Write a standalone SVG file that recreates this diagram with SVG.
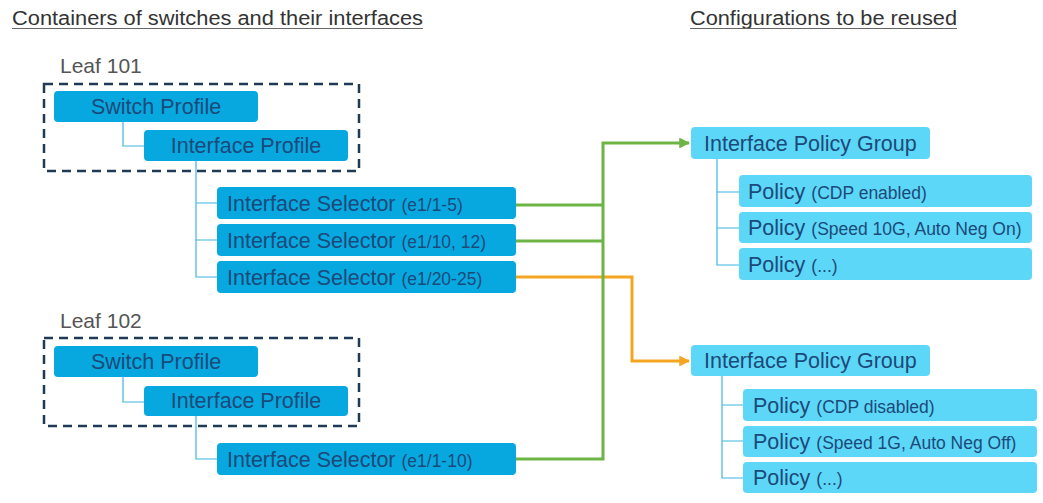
<svg xmlns="http://www.w3.org/2000/svg" width="1043" height="503" viewBox="0 0 1043 503">
<style>
.title{font-family:"Liberation Sans",Arial,sans-serif;font-size:20px;fill:#333;}
.leaf{font-family:"Liberation Sans",Arial,sans-serif;font-size:21px;fill:#555;}
.dash{fill:none;stroke:#1f3a55;stroke-width:2.5;stroke-dasharray:9 6;}
.bl{fill:#07a8e0;}
.br{fill:#5dd7f7;}
.t{font-family:"Liberation Sans",Arial,sans-serif;font-size:21.5px;fill:#1b4a7a;}
.s{font-size:17.5px;}
.tree{fill:none;stroke:#3cb6df;stroke-width:1.2;}
.g{fill:none;stroke:#6cb443;stroke-width:3;}
.o{fill:none;stroke:#f4a522;stroke-width:3;}
</style>
<defs>
<marker id="ag" viewBox="0 0 10 10" refX="9" refY="5" markerWidth="3.6" markerHeight="3.6" orient="auto" markerUnits="strokeWidth"><path d="M0,0 L10,5 L0,10 z" fill="#6cb443"/></marker>
<marker id="ao" viewBox="0 0 10 10" refX="9" refY="5" markerWidth="3.6" markerHeight="3.6" orient="auto" markerUnits="strokeWidth"><path d="M0,0 L10,5 L0,10 z" fill="#f4a522"/></marker>
</defs>
<rect width="1043" height="503" fill="#fff"/>
<g id="titles">
<text class="title" x="12" y="25" textLength="411" lengthAdjust="spacingAndGlyphs">Containers of switches and their interfaces</text>
<line x1="12" y1="28.5" x2="423" y2="28.5" stroke="#666" stroke-width="1.2"/>
<text class="title" x="690" y="25" textLength="267" lengthAdjust="spacingAndGlyphs">Configurations to be reused</text>
<line x1="690" y1="28.5" x2="957" y2="28.5" stroke="#666" stroke-width="1.2"/>
</g>
<g id="connectors">
<path class="tree" d="M123,122 V146 H144"/>
<path class="tree" d="M196,161 V277 H217 M196,203 H217 M196,240 H217"/>
<path class="tree" d="M123,377 V402 H144"/>
<path class="tree" d="M196,416 V459 H217"/>
<path class="tree" d="M717,159 V265 H739 M717,192 H739 M717,228 H739"/>
<path class="tree" d="M722,376 V478 H743 M722,405 H743 M722,441 H743"/>
<path class="o" d="M516,277 H632 V361 H689" marker-end="url(#ao)"/>
<path class="g" d="M516,459 H603 V143 H689" marker-end="url(#ag)"/>
<path class="g" d="M516,205 H603 M516,241 H603"/>
</g>
<g id="leaf101">
<text class="leaf" x="60" y="73">Leaf 101</text>
<rect class="dash" x="44" y="84" width="315" height="87"/>
</g>
<g id="leaf101-switch-profile">
<rect class="bl" x="54" y="91" width="204" height="31" rx="4"/>
<text class="t" x="156" y="114" text-anchor="middle">Switch Profile</text>
</g>
<g id="leaf101-interface-profile">
<rect class="bl" x="144" y="130" width="204" height="31" rx="4"/>
<text class="t" x="246" y="153" text-anchor="middle">Interface Profile</text>
</g>
<g id="sel1">
<rect class="bl" x="217" y="187" width="299" height="32" rx="4"/>
<text class="t" x="227" y="211">Interface Selector <tspan class="s">(e1/1-5)</tspan></text>
</g>
<g id="sel2">
<rect class="bl" x="217" y="224" width="299" height="32" rx="4"/>
<text class="t" x="227" y="248">Interface Selector <tspan class="s">(e1/10, 12)</tspan></text>
</g>
<g id="sel3">
<rect class="bl" x="217" y="261" width="299" height="32" rx="4"/>
<text class="t" x="227" y="285">Interface Selector <tspan class="s">(e1/20-25)</tspan></text>
</g>
<g id="leaf102">
<text class="leaf" x="60" y="328">Leaf 102</text>
<rect class="dash" x="44" y="338" width="315" height="88"/>
</g>
<g id="leaf102-switch-profile">
<rect class="bl" x="54" y="346" width="204" height="31" rx="4"/>
<text class="t" x="156" y="369" text-anchor="middle">Switch Profile</text>
</g>
<g id="leaf102-interface-profile">
<rect class="bl" x="144" y="386" width="204" height="30" rx="4"/>
<text class="t" x="246" y="408" text-anchor="middle">Interface Profile</text>
</g>
<g id="sel4">
<rect class="bl" x="217" y="443" width="299" height="32" rx="4"/>
<text class="t" x="227" y="467">Interface Selector <tspan class="s">(e1/1-10)</tspan></text>
</g>
<g id="ipg1">
<rect class="br" x="691" y="127" width="239" height="32" rx="4"/>
<text class="t" x="704" y="151">Interface Policy Group</text>
</g>
<g id="pol1a">
<rect class="br" x="739" y="175" width="293" height="32" rx="4"/>
<text class="t" x="748" y="199">Policy <tspan class="s">(CDP enabled)</tspan></text>
</g>
<g id="pol1b">
<rect class="br" x="739" y="212" width="293" height="31" rx="4"/>
<text class="t" x="748" y="235">Policy <tspan class="s">(Speed 10G, Auto Neg On)</tspan></text>
</g>
<g id="pol1c">
<rect class="br" x="739" y="248" width="293" height="32" rx="4"/>
<text class="t" x="748" y="272">Policy <tspan class="s">(...)</tspan></text>
</g>
<g id="ipg2">
<rect class="br" x="691" y="345" width="239" height="31" rx="4"/>
<text class="t" x="704" y="368">Interface Policy Group</text>
</g>
<g id="pol2a">
<rect class="br" x="743" y="389" width="294" height="32" rx="4"/>
<text class="t" x="753" y="413">Policy <tspan class="s">(CDP disabled)</tspan></text>
</g>
<g id="pol2b">
<rect class="br" x="743" y="426" width="294" height="31" rx="4"/>
<text class="t" x="753" y="449">Policy <tspan class="s">(Speed 1G, Auto Neg Off)</tspan></text>
</g>
<g id="pol2c">
<rect class="br" x="743" y="462" width="294" height="31" rx="4"/>
<text class="t" x="753" y="485">Policy <tspan class="s">(...)</tspan></text>
</g>
</svg>
